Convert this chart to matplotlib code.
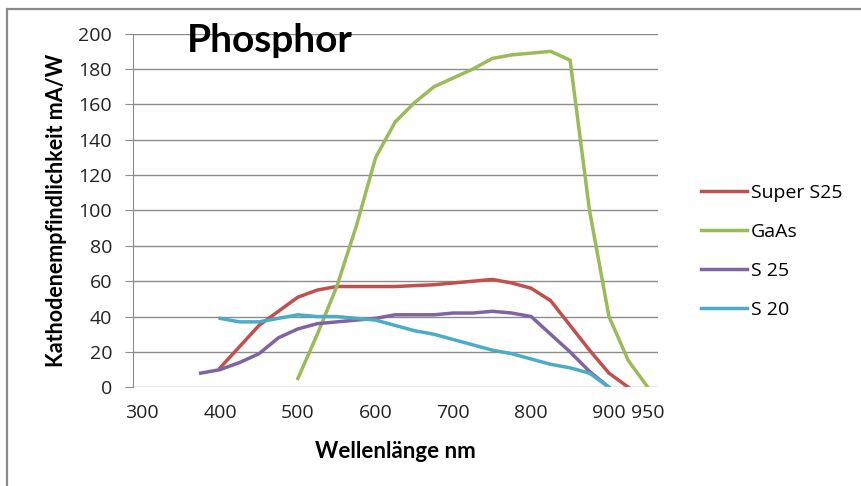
import matplotlib
matplotlib.use("Agg")
import matplotlib.pyplot as plt
from matplotlib.patches import Rectangle

plt.rcParams.update({
    "font.family": ["Open Sans", "DejaVu Sans"],
    "font.size": 10,
})

# wavelength in nm, response in mA/W
wl_super = [400, 425, 450, 475, 500, 525, 550, 575, 600, 625, 650, 675, 700,
            725, 750, 775, 800, 825, 850, 875, 900, 925]
super_s25 = [11, 23, 35, 43, 51, 55, 57, 57, 57, 57, 57.5, 58, 59,
             60, 61, 59, 56, 49, 35, 21, 8, 0]

wl_gaas = [500, 525, 550, 575, 600, 625, 650, 675, 700, 725, 750, 775, 800,
           825, 850, 875, 900, 925, 950]
gaas = [5, 30, 57, 91, 130, 150, 161, 170, 175, 180, 186, 188, 189,
        190, 185, 100, 40, 15, 0]

wl_s25 = [375, 400, 425, 450, 475, 500, 525, 550, 575, 600, 625, 650, 675,
          700, 725, 750, 775, 800, 825, 850, 875, 900]
s25 = [8, 10, 14, 19, 28, 33, 36, 37, 38, 39, 41, 41, 41,
       42, 42, 43, 42, 40, 30, 20, 9, 0]

wl_s20 = [400, 425, 450, 475, 500, 525, 550, 575, 600, 625, 650, 675, 700,
          725, 750, 775, 800, 825, 850, 875, 900]
s20 = [39, 37, 37, 39, 41, 40, 40, 39, 38, 35, 32, 30, 27,
       24, 21, 19, 16, 13, 11, 8, 0]

x_ticks = [300, 400, 500, 600, 700, 800, 900, 950]

bold = ["Lato", "DejaVu Sans"]

fig = plt.figure(figsize=(8.62, 4.86), dpi=100)
ax = fig.add_axes([0.1543, 0.2031, 0.609, 0.7276])

ax.plot(wl_super, super_s25, color="#C0504D", lw=2.5, label="Super S25", zorder=3)
ax.plot(wl_gaas, gaas, color="#9BBB59", lw=2.5, label="GaAs", zorder=3)
ax.plot(wl_s25, s25, color="#8064A2", lw=2.5, label="S 25", zorder=3)
ax.plot(wl_s20, s20, color="#4BACC6", lw=2.5, label="S 20", zorder=3)

ax.set_xlim(288, 963)
ax.set_ylim(0, 200)
ax.set_yticks(range(0, 201, 20))
ax.set_xticks(x_ticks)
ax.grid(axis="y", color="#8c8c8c", lw=1)
ax.set_axisbelow(True)
for s in ["top", "right", "bottom"]:
    ax.spines[s].set_visible(False)
ax.spines["left"].set_color("#8c8c8c")
ax.tick_params(axis="y", length=6, color="#8c8c8c", labelsize=14, pad=9, labelcolor="#222222")
ax.tick_params(axis="x", length=0, labelsize=14, pad=12, labelcolor="#222222")

ax.set_xlabel("Wellenlänge nm", fontsize=16, fontweight="bold", family=bold, labelpad=14)
ax.set_ylabel("Kathodenempfindlichkeit mA/W", fontsize=15.5, fontweight="bold", family=bold,
              labelpad=8)

fig.text(187 / 862, 1 - 40 / 486, "Phosphor", fontsize=28, fontweight="bold", family=bold,
         ha="left", va="center")

leg = ax.legend(loc="upper left", bbox_to_anchor=(1.048, 0.625), frameon=False,
                fontsize=14, handlelength=2.4, handletextpad=0.2, labelspacing=1.08)

# outer chart border (cut off at right and bottom)
fig.patches.append(Rectangle((7 / 862, -0.1), 1.2, 1.1 - 9 / 486,
                             transform=fig.transFigure, fill=False,
                             edgecolor="#8a8a8a", lw=1.6))

fig.savefig("out.png", dpi=100)
